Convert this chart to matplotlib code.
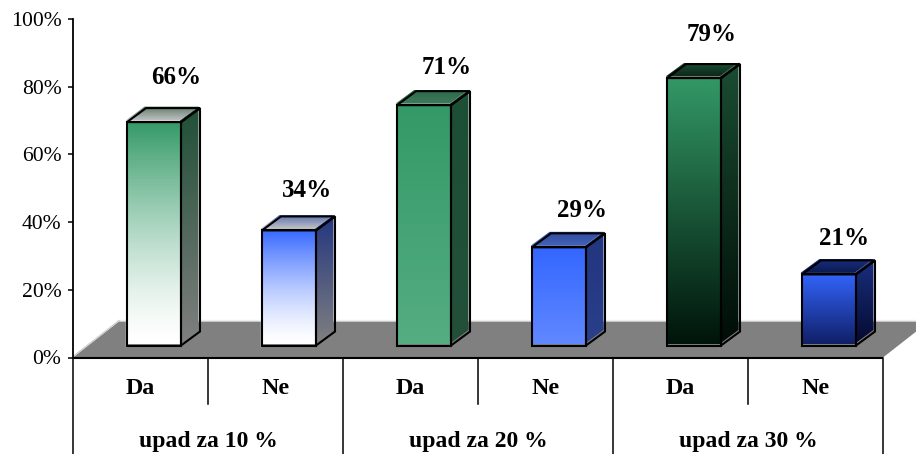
import numpy as np
import matplotlib
matplotlib.use('Agg')
import matplotlib.pyplot as plt
from matplotlib.colors import LinearSegmentedColormap
from matplotlib.patches import Polygon

# Chart values
groups = ['upad za 10 %', 'upad za 20 %', 'upad za 30 %']
answers = ['Da', 'Ne', 'Da', 'Ne', 'Da', 'Ne']
values = [66, 34, 71, 29, 79, 21]
y_ticks = [0, 20, 40, 60, 80, 100]

# Gradient colours per bar: front (top, bottom), side (top, bottom), cap (back, front)
front_colors = [('#339966', '#ffffff'), ('#3366ff', '#ffffff'),
                ('#339966', '#55ad82'), ('#3366ff', '#6088ff'),
                ('#339966', '#00140a'), ('#3366ff', '#101f66')]
side_colors = [('#1f4f35', '#808080'), ('#22357f', '#808080'),
               ('#1c4f35', '#24503a'), ('#22357f', '#2a3f8a'),
               ('#1a4d33', '#000d06'), ('#1a2f80', '#050a30')]
cap_colors = [('#5d7a6a', '#c4c4c4'), ('#5a6fb0', '#c4c4c4'),
              ('#2f6b4c', '#3b7a5a'), ('#2d4a9c', '#4563b8'),
              ('#1a4d33', '#0d2619'), ('#1a2f80', '#0a1a50')]
front_power = [1.4, 1.4, 1, 1, 1, 1]

# Manual nudges for the value labels, in pixels
label_dx = [22, 18, 23, 23, 18, 15]
label_dy = [45, 40, 38, 37, 44, 36]

plt.rcParams['font.family'] = ['Liberation Serif', 'DejaVu Serif']

W, H = 916, 454
fig = plt.figure(figsize=(W / 100, H / 100), dpi=100)
ax = fig.add_axes([73 / W, (H - 357.5) / H, 810 / W, 338.5 / H])
ax.set_xlim(0, 6)
ax.set_ylim(0, 100)

# pixels to data units
px_x = 6 / 810
px_y = 100 / 338.5

depth_x = 19 * px_x
depth_y = 14 * px_y
lift = 12 * px_y
bar_left = 0.4
bar_width = 0.4
shift_x = 1.5 * px_x
shift_y = 1.5 * px_y


def gradient(c_top, c_bottom, poly, z, power=1):
    # vertical colour ramp clipped to a polygon
    poly = np.array(poly)
    cmap = LinearSegmentedColormap.from_list('g', [c_bottom, c_top])
    ramp = (np.linspace(1, 0, 256) ** power).reshape(-1, 1)
    im = ax.imshow(ramp, cmap=cmap, vmin=0, vmax=1, aspect='auto', zorder=z,
                   extent=[poly[:, 0].min(), poly[:, 0].max(), poly[:, 1].min(), poly[:, 1].max()])
    clip = Polygon(poly, closed=True, transform=ax.transData)
    im.set_clip_path(clip)


# floor
floor_dx = 46 * px_x
floor_dy = 36 * px_y
floor = Polygon([(0, 0), (6, 0), (6 + floor_dx, floor_dy), (floor_dx, floor_dy)],
                closed=True, facecolor='#808080', edgecolor='none', clip_on=False, zorder=1)
ax.add_patch(floor)
ax.plot([floor_dx, 6 + floor_dx], [floor_dy + 0.4, floor_dy + 0.4], color='#eeeeee', lw=1,
        clip_on=False, zorder=1)
ax.plot([0, floor_dx], [0.3, floor_dy + 0.3], color='#c8c8c8', lw=0.8, clip_on=False, zorder=1)

# bars
for i, v in enumerate(values):
    x0 = i + bar_left
    x1 = x0 + bar_width
    y0 = lift
    y1 = lift + v
    front = [(x0, y0), (x1, y0), (x1, y1), (x0, y1)]
    side = [(x1, y0), (x1 + depth_x, y0 + depth_y), (x1 + depth_x, y1 + depth_y), (x1, y1)]
    cap = [(x0, y1), (x1, y1), (x1 + depth_x, y1 + depth_y), (x0 + depth_x, y1 + depth_y)]

    # colour fills sit slightly up and left of their black outlines
    offset = np.array([-shift_x, shift_y])
    gradient(side_colors[i][0], side_colors[i][1], np.array(side) + offset, 3)
    gradient(cap_colors[i][0], cap_colors[i][1], np.array(cap) + offset, 3)
    gradient(front_colors[i][0], front_colors[i][1], np.array(front) + offset, 3, front_power[i])
    if i < 2:
        # white fronts keep their halo on the floor
        ax.plot([x0 - shift_x] * 2, [y0, y0 + 25], color='white', lw=1, zorder=3)

    for face in (side, cap, front):
        ax.add_patch(Polygon(face, closed=True, facecolor='none', edgecolor='black', lw=1.5,
                             joinstyle='miter', clip_on=False, zorder=4))

    ax.annotate(f'{v}%', (x0 + bar_width / 2, y1), xytext=(label_dx[i], label_dy[i]),
                textcoords='offset pixels', ha='center', va='center', fontsize=18,
                fontweight='bold', zorder=5)

# imshow resets the limits
ax.set_xlim(0, 6)
ax.set_ylim(0, 100)

# y axis
for name in ['top', 'right', 'bottom']:
    ax.spines[name].set_visible(False)
ax.spines['left'].set_linewidth(1.3)
ax.spines['left'].set_zorder(6)
ax.set_yticks(y_ticks)
ax.set_yticklabels([f'{t}%' for t in y_ticks], fontsize=15.6)
ax.tick_params(axis='y', length=3.8, width=1.1, pad=4.5)
ax.set_xticks([])

# two level category axis below the floor
trans = ax.get_xaxis_transform()
ax.plot([0, 6], [0, 0], color='black', lw=1.5, transform=trans, clip_on=False, zorder=6, solid_capstyle='butt')
low = -97 / 338.5
mid = -46 / 338.5
for i in range(0, 7):
    bottom = low if i % 2 == 0 else mid
    ax.plot([i, i], [0, bottom], color='black', lw=1.1, transform=trans, clip_on=False, zorder=6)
for i, a in enumerate(answers):
    ax.text(i + 0.5, -31 / 338.5, a, transform=trans, ha='center', va='center', fontsize=17.3,
            fontweight='bold')
for i, g in enumerate(groups):
    ax.text(2 * i + 1, -84 / 338.5, g, transform=trans, ha='center', va='center', fontsize=17,
            fontweight='bold')

fig.savefig('out.png', dpi=100)
